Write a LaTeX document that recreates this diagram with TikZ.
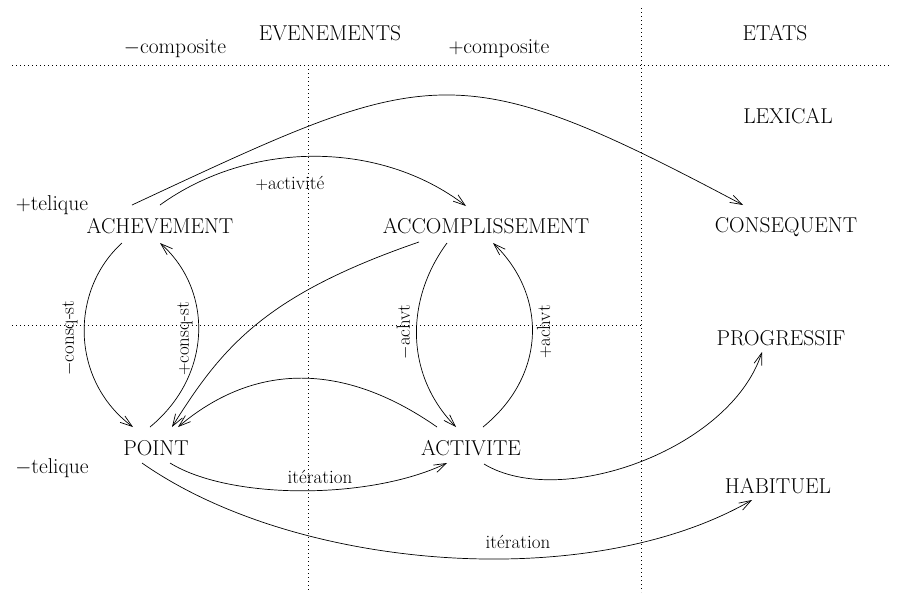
\documentclass[tikz,border=0pt]{standalone}
\usetikzlibrary{arrows.meta}
\begin{document}
\begin{tikzpicture}[x=1pt,y=-1pt,
  big/.style={font=\fontsize{21.5}{26}\selectfont, inner sep=0pt},
  lab/.style={font=\fontsize{19}{23}\selectfont, inner sep=0pt},
  arr/.style={-{Straight Barb[length=12pt,width=8pt]}, line width=0.7pt},
  dots/.style={line width=0.8pt, dash pattern=on 0.8pt off 3.2pt}]
\useasboundingbox (0,0) rectangle (899,598);

% dotted grid
\coordinate (hl) at (12,65);
\coordinate (hr) at (890,65);
\coordinate (v1t) at (308,65);
\coordinate (v1b) at (308,592);
\coordinate (v2t) at (641,8);
\coordinate (v2b) at (641,592);
\coordinate (ml) at (12,325);
\coordinate (mr) at (641,325);
\draw[dots] (hl) -- (hr);
\draw[dots] (v1t) -- (v1b);
\draw[dots] (v2t) -- (v2b);
\draw[dots] (ml) -- (mr);

% headings
\node[big] (ev) at (330,33) {EVENEMENTS};
\node[big] (et) at (775,33) {ETATS};
\node[big] (mc) at (175,49) {$-$composite};
\node[big] (pc) at (499,49) {$+$composite};
\node[big] (lex) at (788,116) {LEXICAL};
\node[big] (pt) at (52,205) {$+$telique};
\node[big] (mt) at (52,468) {$-$telique};

% main nodes
\node[big] (ACH) at (160,226) {ACHEVEMENT};
\node[big] (ACC) at (486,226) {ACCOMPLISSEMENT};
\node[big] (CONS) at (786,227) {CONSEQUENT};
\node[big] (PROG) at (781,338) {PROGRESSIF};
\node[big] (POINT) at (156,448) {POINT};
\node[big] (ACT) at (471,448) {ACTIVITE};
\node[big] (HAB) at (778,486) {HABITUEL};

% connectors
\draw[arr] ([shift={(-28,-21)}]ACH.center) .. controls (430,66) and (453,51) .. ([shift={(-43,-22)}]CONS.center);
\draw[arr] ([shift={(0,-21)}]ACH.center) .. controls (250,140) and (380,140) .. ([shift={(-20,-20)}]ACC.center);
\draw[arr] ([shift={(-38,17)}]ACH.center) .. controls (70,290) and (70,380) .. ([shift={(-23,-21)}]POINT.center);
\draw[arr] ([shift={(-6,-21)}]POINT.center) .. controls (213,375) and (213,290) .. ([shift={(0,17)}]ACH.center);
\draw[arr] ([shift={(-67,16)}]ACC.center) .. controls (265,295) and (222,347) .. ([shift={(16,-21)}]POINT.center);
\draw[arr] ([shift={(-34,-21)}]ACT.center) .. controls (344,362) and (255,362) .. ([shift={(22,-21)}]POINT.center);
\draw[arr] ([shift={(-39,17)}]ACC.center) .. controls (405,300) and (405,375) .. ([shift={(-15,-21)}]ACT.center);
\draw[arr] ([shift={(12,-21)}]ACT.center) .. controls (547,375) and (547,295) .. ([shift={(7,17)}]ACC.center);
\draw[arr] ([shift={(14,15)}]POINT.center) .. controls (230,500) and (370,500) .. ([shift={(-24,15)}]ACT.center);
\draw[arr] ([shift={(-14,15)}]POINT.center) .. controls (296,571) and (589,594) .. ([shift={(-26,14)}]HAB.center);
\draw[arr] ([shift={(13,16)}]ACT.center) .. controls (560,510) and (730,450) .. ([shift={(-19,14)}]PROG.center);

% labels
\node[lab] (la) at (290,183) {$+$activit\'e};
\node[lab, rotate=90] (l1) at (70,338) {$-$consq-st};
\node[lab, rotate=90] (l2) at (185,339) {$+$consq-st};
\node[lab, rotate=90] (l3) at (404,332) {$-$achvt};
\node[lab, rotate=90] (l4) at (544,332) {$+$achvt};
\node[lab] (l5) at (320,477) {it\'eration};
\node[lab] (l6) at (518,542) {it\'eration};
\end{tikzpicture}
\end{document}
